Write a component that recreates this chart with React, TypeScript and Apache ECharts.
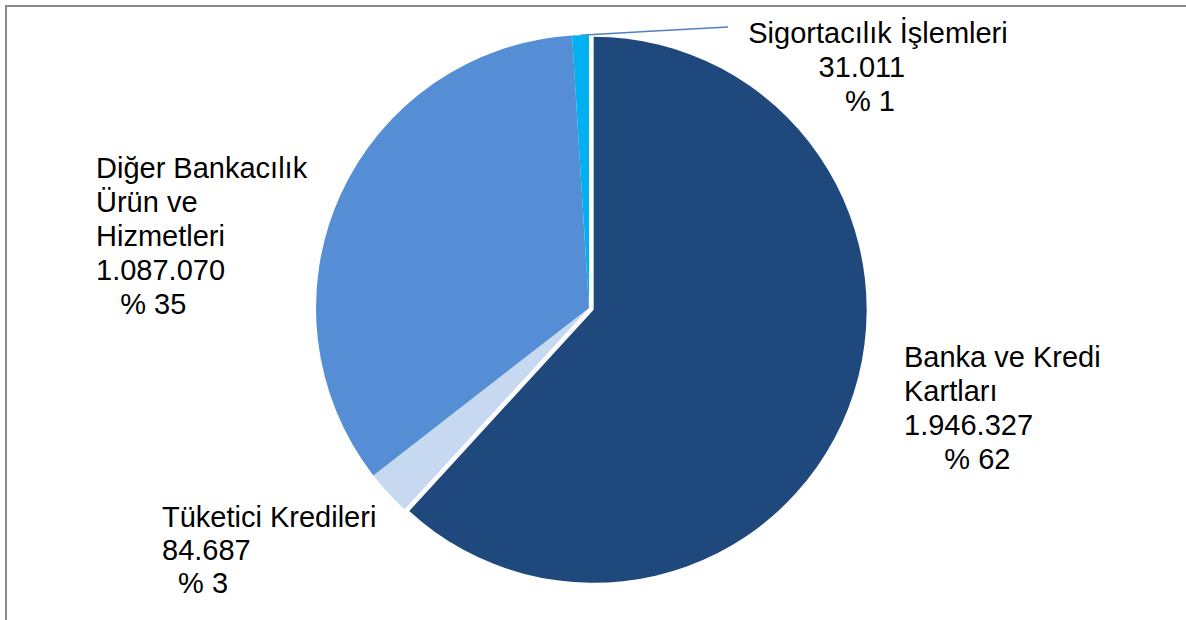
import React, { useEffect, useRef } from "react";
import * as echarts from "echarts";

const categories = [
  "Banka ve Kredi Kartları",
  "Tüketici Kredileri",
  "Diğer Bankacılık Ürün ve Hizmetleri",
  "Sigortacılık İşlemleri",
];
const labelNames = [
  "Banka ve Kredi\nKartları",
  "Tüketici Kredileri",
  "Diğer Bankacılık\nÜrün ve\nHizmetleri",
  "Sigortacılık İşlemleri",
];
const values = [1946327, 84687, 1087070, 31011];
const colors = ["#1F497D", "#C6D9F1", "#558ED5", "#00B0F0"];
const explodedIndex = 0;

// label placement (layout only)
const labelX = [904, 162, 96, 868];
const labelY = [340, 500, 151, 16];
const labelAlign = ["left", "left", "left", "center"];
const labelLineHeight = [34, 33, 34, 34];
const pctIndent = [5, 2, 3, 0];
const leaderEnd = [728, 27];

const NB = "\u00a0";
const CX = 589;
const CY = 308;
const R = 273;
const EXPLODE = 5;

function fmtTR(v: number): string {
  const s = String(Math.round(v));
  let out = "";
  for (let i = 0; i < s.length; i++) {
    const fromEnd = s.length - i;
    out += s[i];
    if (fromEnd > 1 && (fromEnd - 1) % 3 === 0) out += ".";
  }
  return out;
}

export default function App() {
  const ref = useRef<HTMLDivElement>(null);
  useEffect(() => {
    if (!ref.current) return;
    const chart = echarts.init(ref.current, null, { renderer: "svg" });
    const total = values.reduce((a, b) => a + b, 0);

    // bisector of exploded slice (clockwise from 12 o'clock)
    let before = 0;
    for (let i = 0; i < explodedIndex; i++) before += values[i];
    const midFrac = (before + values[explodedIndex] / 2) / total;
    const ang = midFrac * Math.PI * 2;
    const dx = Math.sin(ang) * EXPLODE;
    const dy = -Math.cos(ang) * EXPLODE;

    const baseData = values.map((v, i) => {
      const pct = Math.round((v / total) * 100);
      let text: string;
      if (i === 3) {
        text =
          labelNames[i] + "\n" + fmtTR(v) + NB.repeat(4) + "\n% " + pct + NB.repeat(2);
      } else {
        text = labelNames[i] + "\n" + fmtTR(v) + "\n" + NB.repeat(pctIndent[i]) + "% " + pct;
      }
      return {
        name: categories[i],
        value: v,
        itemStyle: { color: i === explodedIndex ? "transparent" : colors[i] },
        label: {
          formatter: text,
          align: labelAlign[i] as any,
          lineHeight: labelLineHeight[i],
          padding: i === 3 ? [0, 0, 0, 20] : 0,
        },
        labelLine: { show: i === 3 },
      };
    });

    const explodedData = values.map((v, i) => ({
      name: categories[i],
      value: v,
      itemStyle: { color: i === explodedIndex ? colors[i] : "transparent" },
    }));

    chart.setOption({
      animation: false,
      graphic: [
        {
          type: "rect",
          shape: { x: 6, y: 6, width: 1300, height: 800 },
          style: { fill: "none", stroke: "#8a8a8a", lineWidth: 2 },
          silent: true,
        },
      ],
      series: [
        {
          type: "pie",
          name: "base",
          center: [CX, CY],
          radius: R,
          startAngle: 90,
          clockwise: true,
          avoidLabelOverlap: false,
          silent: true,
          emphasis: { disabled: true },
          itemStyle: { borderWidth: 0 },
          label: {
            show: true,
            position: "outside",
            color: "#000",
            fontFamily: "Liberation Sans",
            fontSize: 29,
          },
          labelLine: {
            show: false,
            length: 20,
            length2: 20,
            smooth: false,
            lineStyle: { color: "#4F81BD", width: 1.5 },
          },
          labelLayout: (params: any) => {
            const i = params.dataIndex;
            const res: any = {
              x: labelX[i],
              y: labelY[i],
              align: labelAlign[i],
              verticalAlign: "top",
            };
            if (i === 3 && params.labelLinePoints && params.labelLinePoints[0]) {
              const p0 = params.labelLinePoints[0];
              res.labelLinePoints = [
                [p0[0], p0[1]],
                [(p0[0] + leaderEnd[0]) / 2, (p0[1] + leaderEnd[1]) / 2],
                [leaderEnd[0], leaderEnd[1]],
              ];
            }
            return res;
          },
          data: baseData,
        },
        {
          type: "pie",
          name: "exploded",
          center: [CX + dx, CY + dy],
          radius: R,
          startAngle: 90,
          clockwise: true,
          silent: true,
          emphasis: { disabled: true },
          label: { show: false },
          labelLine: { show: false },
          itemStyle: { borderWidth: 0 },
          data: explodedData,
        },
      ],
    });
    return () => chart.dispose();
  }, []);
  return (
    <div
      ref={ref}
      style={{ position: "fixed", left: 0, top: 0, width: 1186, height: 620, background: "#fff" }}
    />
  );
}
